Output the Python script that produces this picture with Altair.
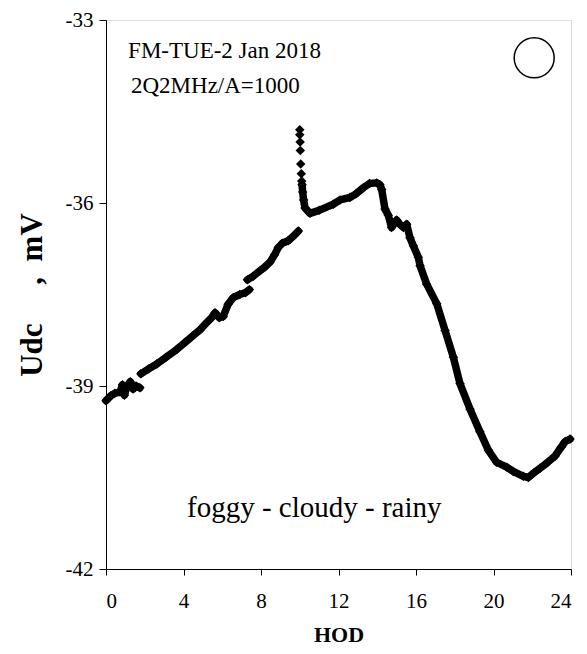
import altair as alt
import pandas as pd

# Segment data (HOD, Udc mV)
seg1_h = [0.00, 0.25, 0.45, 0.72, 0.85, 0.95, 1.07, 1.25, 1.40, 1.55, 1.75]
seg1_v = [-39.24, -39.16, -39.12, -39.10, -38.98, -39.15, -39.02, -38.93, -39.05, -39.00, -39.03]

seg2_h = [1.80, 2.20, 2.62, 3.10, 3.65, 4.10, 4.51, 4.85, 5.20, 5.45, 5.63, 5.85, 6.05, 6.30, 6.57, 6.90, 7.20, 7.40]
seg2_v = [-38.80, -38.72, -38.64, -38.53, -38.40, -38.28, -38.17, -38.08, -37.96, -37.88, -37.80, -37.88, -37.86, -37.66, -37.55, -37.50, -37.47, -37.42]

seg3_h = [7.30, 7.60, 7.95, 8.20, 8.46, 8.70, 8.89, 9.10, 9.40, 9.65, 9.93]
seg3_v = [-37.26, -37.20, -37.11, -37.05, -36.97, -36.85, -36.73, -36.66, -36.62, -36.55, -36.46]

spike_h = [10.00, 10.00, 10.02, 10.03, 10.05, 10.08, 10.10]
spike_v = [-34.80, -34.88, -35.00, -35.14, -35.36, -35.52, -35.64]

seg4_h = [10.12, 10.15, 10.20, 10.27, 10.53, 11.00, 11.73, 12.08, 12.59, 12.90, 13.28, 13.60, 13.97, 14.14,
          14.23, 14.40, 14.57, 14.74, 15.00, 15.20, 15.35, 15.52, 15.69, 15.86, 16.12, 16.21, 16.55, 17.07,
          17.50, 17.93, 18.27, 18.79, 19.30, 19.73, 20.16, 20.68, 21.02, 21.54, 21.80, 22.06, 22.40, 22.80,
          23.17, 23.50, 23.70, 23.95]
seg4_v = [-35.70, -35.82, -35.95, -36.08, -36.17, -36.12, -36.02, -35.95, -35.91, -35.85, -35.75, -35.68, -35.67, -35.70,
          -35.78, -36.10, -36.20, -36.40, -36.28, -36.36, -36.40, -36.35, -36.57, -36.70, -36.89, -37.03, -37.33, -37.65,
          -38.09, -38.53, -38.96, -39.38, -39.75, -40.05, -40.25, -40.33, -40.40, -40.48, -40.50, -40.43, -40.35, -40.25,
          -40.15, -40.00, -39.91, -39.87]

x_ticks = [0, 4, 8, 12, 16, 20, 24]
y_ticks = [-42, -39, -36, -33]

rows = []
for name, hs, vs in [("a", seg1_h, seg1_v), ("b", seg2_h, seg2_v), ("c", seg3_h, seg3_v), ("d", seg4_h, seg4_v)]:
    for h, v in zip(hs, vs):
        rows.append({"h": h, "v": v, "seg": name})
line_df = pd.DataFrame(rows)
pts_df = pd.concat([line_df, pd.DataFrame({"h": spike_h, "v": spike_v, "seg": "s"})], ignore_index=True)

FONT = "Liberation Serif, Times New Roman, Times, serif"
NB = "\u00a0"
y_title = "Udc" + NB * 5 + "," + NB * 2 + "mV"

xs = alt.Scale(domain=[0, 24], nice=False, zero=False)
ys = alt.Scale(domain=[-42, -33], nice=False, zero=False)

x_enc = alt.X("h:Q", scale=xs, axis=alt.Axis(values=x_ticks, title="HOD", grid=False, labelExpr="'' + datum.value",
              labelFont=FONT, labelFontSize=21, titleFont=FONT, titleFontSize=22, titleFontWeight="bold",
              tickSize=6, labelPadding=15, titlePadding=13, domainColor="black", tickColor="black",
              labelColor="black", titleColor="black"))
y_enc = alt.Y("v:Q", scale=ys, axis=alt.Axis(values=y_ticks, title=y_title, grid=False, labelExpr="'' + datum.value",
              labelFont=FONT, labelFontSize=21, titleFont=FONT, titleFontSize=31, titleFontWeight="bold",
              tickSize=7, labelPadding=6, titlePadding=17, domainColor="black", tickColor="black",
              labelColor="black", titleColor="black"))

lines = alt.Chart(line_df).mark_line(color="black", strokeWidth=7.5, strokeCap="round", strokeJoin="round").encode(
    x=x_enc, y=y_enc, detail="seg:N")
points = alt.Chart(pts_df).mark_point(shape="diamond", filled=True, color="black", size=90, opacity=1).encode(
    x="h:Q", y="v:Q")

ann_df = pd.DataFrame({
    "h": [1.14, 1.29],
    "v": [-33.63, -34.19],
    "t": ["FM-TUE-2 Jan 2018", "2Q2MHz/A=1000"],
})
ann = alt.Chart(ann_df).mark_text(font=FONT, fontSize=23, align="left", baseline="alphabetic", color="black").encode(
    x="h:Q", y="v:Q", text="t:N")

wx_df = pd.DataFrame({"h": [10.75], "v": [-41.14], "t": ["foggy - cloudy - rainy"]})
wx = alt.Chart(wx_df).mark_text(font=FONT, fontSize=29, align="center", baseline="alphabetic", color="black").encode(
    x="h:Q", y="v:Q", text="t:N")

circ_df = pd.DataFrame({"h": [22.1], "v": [-33.62]})
circ = alt.Chart(circ_df).mark_point(shape="circle", filled=False, color="black", strokeWidth=1.5, size=1600, opacity=1).encode(
    x="h:Q", y="v:Q")

chart = alt.layer(lines, points, ann, wx, circ).properties(
    width=465, height=549,
    autosize=alt.AutoSizeParams(type="none"),
    padding={"left": 98, "top": 12, "right": 8, "bottom": 85},
).configure_view(stroke="black", strokeWidth=1.2).configure(background="white")

chart.save("out.html", embed_options={"renderer": "svg", "actions": False})
